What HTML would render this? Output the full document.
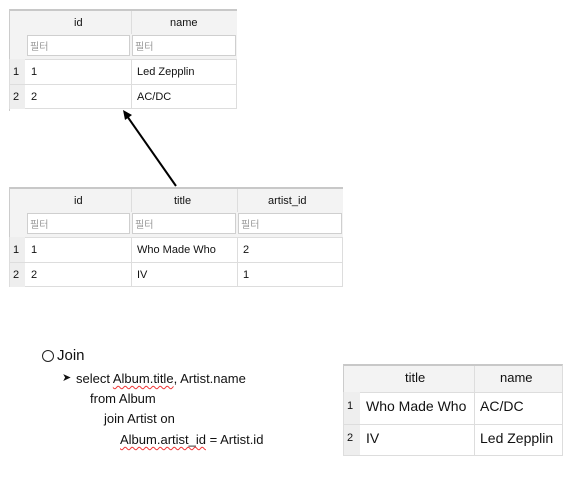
<!DOCTYPE html>
<html><head><meta charset="utf-8"><style>
body{margin:0;width:582px;height:479px;background:#fff;position:relative;overflow:hidden;font-family:"Liberation Sans","Noto Sans CJK KR",sans-serif;}
.a{position:absolute;box-sizing:border-box;}
.hd{background:#f3f3f3;}
.t{position:absolute;font-size:11px;color:#111;white-space:nowrap;}
.f{position:absolute;box-sizing:border-box;background:#fff;border:1px solid #cfcfcf;font-size:10px;color:#999;padding:2px 0 0 2px;}
.s{position:absolute;font-size:13px;color:#111;white-space:nowrap;font-family:"Liberation Sans","Noto Sans CJK KR",sans-serif;}
.u{text-decoration:underline wavy #e33;text-decoration-thickness:1px;text-underline-offset:2px;}
</style></head><body>

<!-- Table 1 -->
<div class="a hd" style="left:9px;top:9px;width:228px;height:50px;border-top:2px solid #c8c8c8;"></div>
<div class="a" style="left:9px;top:9px;width:1px;height:102px;background:#ccc"></div>
<div class="a" style="left:131px;top:11px;width:1px;height:23px;background:#ddd"></div>
<div class="t" style="left:74px;top:17px">id</div>
<div class="t" style="left:170px;top:17px">name</div>
<div class="f" style="left:27px;top:35px;width:103px;height:21px">필터</div>
<div class="f" style="left:132px;top:35px;width:104px;height:21px">필터</div>
<div class="a" style="left:9px;top:59px;width:228px;height:50px;background:#fff;border:1px solid #ddd;"></div>
<div class="a" style="left:10px;top:59px;width:15px;height:50px;background:#eee"></div>
<div class="a" style="left:9px;top:84px;width:228px;height:1px;background:#ddd"></div>
<div class="a" style="left:131px;top:59px;width:1px;height:50px;background:#ddd"></div>
<div class="t" style="left:13px;top:66px">1</div><div class="t" style="left:31px;top:66px">1</div><div class="t" style="left:137px;top:66px">Led Zepplin</div>
<div class="t" style="left:13px;top:91px">2</div><div class="t" style="left:31px;top:91px">2</div><div class="t" style="left:137px;top:91px">AC/DC</div>

<!-- Arrow -->
<svg class="a" style="left:0;top:0" width="582" height="479"><line x1="176" y1="186" x2="127" y2="116" stroke="#000" stroke-width="2"/><polygon points="123,110 132,115 125,120" fill="#000"/></svg>

<!-- Table 2 -->
<div class="a hd" style="left:9px;top:187px;width:334px;height:50px;border-top:2px solid #c8c8c8;"></div>
<div class="a" style="left:9px;top:187px;width:1px;height:100px;background:#ccc"></div>
<div class="a" style="left:131px;top:189px;width:1px;height:23px;background:#ddd"></div>
<div class="a" style="left:237px;top:189px;width:1px;height:23px;background:#ddd"></div>
<div class="t" style="left:74px;top:195px">id</div>
<div class="t" style="left:174px;top:195px">title</div>
<div class="t" style="left:268px;top:195px">artist_id</div>
<div class="f" style="left:27px;top:213px;width:103px;height:21px">필터</div>
<div class="f" style="left:132px;top:213px;width:104px;height:21px">필터</div>
<div class="f" style="left:238px;top:213px;width:104px;height:21px">필터</div>
<div class="a" style="left:9px;top:237px;width:334px;height:50px;background:#fff;border:1px solid #ddd;"></div>
<div class="a" style="left:10px;top:237px;width:15px;height:50px;background:#eee"></div>
<div class="a" style="left:9px;top:262px;width:334px;height:1px;background:#ddd"></div>
<div class="a" style="left:131px;top:237px;width:1px;height:50px;background:#ddd"></div>
<div class="a" style="left:237px;top:237px;width:1px;height:50px;background:#ddd"></div>
<div class="t" style="left:13px;top:244px">1</div><div class="t" style="left:31px;top:244px">1</div><div class="t" style="left:137px;top:244px">Who Made Who</div><div class="t" style="left:243px;top:244px">2</div>
<div class="t" style="left:13px;top:269px">2</div><div class="t" style="left:31px;top:269px">2</div><div class="t" style="left:137px;top:269px">IV</div><div class="t" style="left:243px;top:269px">1</div>

<!-- Text -->
<div class="a" style="left:42px;top:350px;width:12px;height:12px;border:1px solid #222;border-radius:50%"></div>
<div class="s" style="left:57px;top:347px;font-size:15px">Join</div>
<div class="s" style="left:62px;top:371px;font-size:11px">➤</div>
<div class="s" style="left:76px;top:371px">select <span class="u">Album.title</span>, Artist.name</div>
<div class="s" style="left:90px;top:391px">from Album</div>
<div class="s" style="left:104px;top:411px">join Artist on</div>
<div class="s" style="left:120px;top:432px"><span class="u">Album.artist_id</span> = Artist.id</div>

<!-- Result table -->
<div class="a hd" style="left:343px;top:364px;width:220px;height:28px;border-top:2px solid #c8c8c8;border-left:1px solid #ccc;border-right:1px solid #ddd"></div>
<div class="a" style="left:474px;top:366px;width:1px;height:26px;background:#ddd"></div>
<div class="s" style="left:405px;top:370px">title</div>
<div class="s" style="left:500px;top:370px">name</div>
<div class="a" style="left:343px;top:392px;width:220px;height:64px;background:#fff;border:1px solid #ddd"></div>
<div class="a" style="left:344px;top:392px;width:16px;height:63px;background:#eee"></div>
<div class="a" style="left:343px;top:424px;width:220px;height:1px;background:#ddd"></div>
<div class="a" style="left:474px;top:392px;width:1px;height:64px;background:#ddd"></div>
<div class="s" style="left:347px;top:400px;font-size:11px">1</div><div class="s" style="left:366px;top:398px;font-size:14px">Who Made Who</div><div class="s" style="left:480px;top:398px;font-size:14px">AC/DC</div>
<div class="s" style="left:347px;top:432px;font-size:11px">2</div><div class="s" style="left:366px;top:430px;font-size:14px">IV</div><div class="s" style="left:480px;top:430px;font-size:14px">Led Zepplin</div>

</body></html>
